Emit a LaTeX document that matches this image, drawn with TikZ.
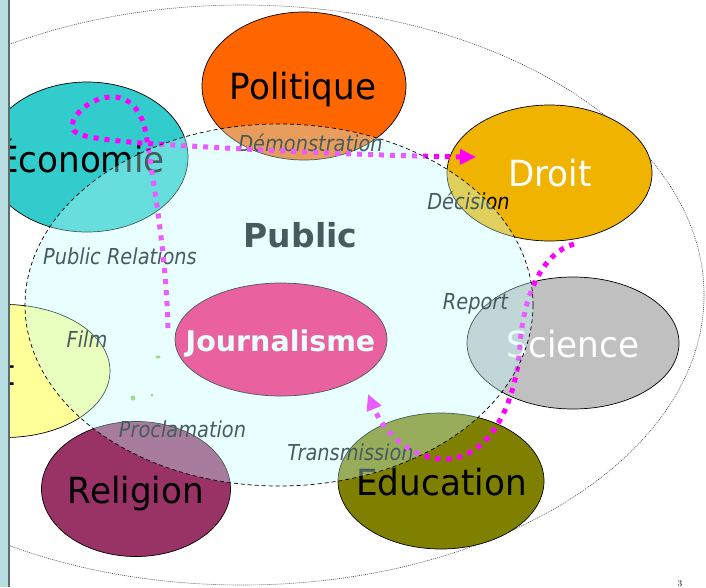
\documentclass[tikz,border=0pt]{standalone}
\usepackage{fontspec}
\newfontfamily\bigf{DejaVu Sans}[FakeStretch=0.95]
\newfontfamily\lblf{DejaVu Sans Oblique}[FakeStretch=0.88]
\newfontfamily\boldf{DejaVu Sans Bold}
\usetikzlibrary{shapes.geometric,arrows.meta}
\definecolor{cpol}{RGB}{255,102,0}
\definecolor{ceco}{RGB}{51,204,204}
\definecolor{cdroit}{RGB}{240,180,0}
\definecolor{csci}{RGB}{192,192,192}
\definecolor{cedu}{RGB}{128,128,0}
\definecolor{crel}{RGB}{153,51,102}
\definecolor{cart}{RGB}{255,255,153}
\definecolor{cjour}{RGB}{255,10,106}
\definecolor{cover}{RGB}{195,255,255}
\definecolor{cflow}{RGB}{255,0,255}
\definecolor{cbar}{RGB}{184,221,224}
\definecolor{cbarline}{RGB}{90,110,112}
\definecolor{cgreen}{RGB}{140,200,60}
\tikzset{
  blob/.style={ellipse, draw=black, line width=0.7pt, inner sep=0pt},
  bigtxt/.style={font={\bigf\fontsize{36}{40}\selectfont}, anchor=base, inner sep=0pt},
  lbl/.style={font={\lblf\fontsize{22}{26}\selectfont}, anchor=base, inner sep=0pt, text=black},
  flow/.style={draw=cflow, line width=5pt, dash pattern=on 5pt off 6pt,
    -{Triangle[length=16pt,width=15pt]}},
}
\begin{document}
\begin{tikzpicture}[x=1pt,y=-1pt]
\useasboundingbox (0,0) rectangle (706,587);
\fill[white] (0,0) rectangle (706,587);
% outer dotted ellipse
\draw[black!70, line width=0.6pt, dash pattern=on 1pt off 1pt] (242,295) ellipse [x radius=462, y radius=290];
% domain ellipses
\node[blob, fill=cpol, minimum width=204, minimum height=148] (pol) at (304,86) {};
\node[blob, fill=ceco, minimum width=202, minimum height=150] (eco) at (87,157) {};
\node[blob, fill=cdroit, minimum width=205, minimum height=136] (droit) at (549.5,173) {};
\node[blob, fill=csci, minimum width=212, minimum height=132] (sci) at (573,343) {};
\node[blob, fill=cedu, minimum width=206, minimum height=136] (edu) at (441,481) {};
\node[blob, fill=crel, minimum width=189, minimum height=135] (rel) at (136,489) {};
\node[blob, fill=cart, minimum width=210, minimum height=133] (art) at (5,371) {};
\node[blob, fill=cjour, minimum width=212, minimum height=113] (jour) at (281,339.5) {};
% domain texts
\node[bigtxt] (tpol) at (303,99.3) {Politique};
\node[bigtxt, anchor=base east] (teco) at (165,172) {Économie};
\node[bigtxt, text=white] (tdroit) at (550,186) {Droit};
\node[bigtxt, text=white] (tsci) at (573,357) {Science};
\node[bigtxt] (tedu) at (441.5,495) {Education};
\node[bigtxt] (trel) at (136,503) {Religion};
\node[bigtxt, anchor=base east] (tart) at (15,385) {Art};
\node[font={\boldf\fontsize{28.5}{32}\selectfont}, anchor=base, inner sep=0pt, text=white] (tjour) at (280.5,351) {Journalisme};
\node[font={\boldf\fontsize{33}{36}\selectfont}, anchor=base, inner sep=0pt, text=black] (tpub) at (300.5,247.3) {Public};
% labels
\node[lbl] (ldem) at (310.5,151.7) {Démonstration};
\node[lbl] (ldec) at (468.5,209) {Décision};
\node[lbl] (lrep) at (475.5,309) {Report};
\node[lbl] (lpr) at (120,264) {Public Relations};
\node[lbl] (lfilm) at (87,347) {Film};
\node[lbl] (lproc) at (182.5,437) {Proclamation};
\node[lbl] (ltrans) at (350.5,460) {Transmission};
% stray green dots
\fill[cgreen] (158,357) ellipse [x radius=2.5, y radius=1.5];
\fill[cgreen] (133,398) circle [radius=2.5];
\fill[cgreen] (152,395) circle [radius=1.5];
% flows
\coordinate (s1) at (168,328);
\coordinate (e1) at (476,157);
\coordinate (s2) at (574,244);
\coordinate (e2) at (368,394);
\draw[flow] (s1) .. controls (166,250) and (152,175) .. (147,140)
  .. controls (143,108) and (128,96) .. (110,97)
  .. controls (90,98) and (72,115) .. (72,127)
  .. controls (73,137) and (100,139) .. (140,143)
  .. controls (250,150) and (380,156) .. (e1);
\draw[flow] (s2) .. controls (545,252) and (524,290) .. (520,345)
  .. controls (517,395) and (495,455) .. (448,459)
  .. controls (415,461) and (385,435) .. (e2);
% public overlay
\node[ellipse, inner sep=0pt, minimum width=508, minimum height=362,
  fill=cover, fill opacity=0.36, draw=black, line width=0.7pt,
  dash pattern=on 4pt off 3pt] (pub) at (279,305) {};
% left bar
\fill[cbar] (0,0) rectangle (8.5,587);
\draw[cbarline, line width=1.5pt] (9,0) -- (9,587);
\node[font=\fontsize{9}{10}\selectfont, anchor=north, inner sep=0pt] (pg) at (680,580) {3};
\end{tikzpicture}
\end{document}
